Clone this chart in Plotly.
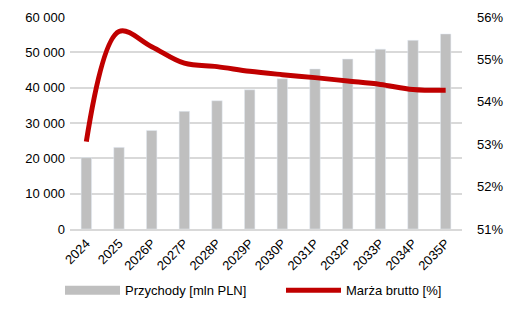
import plotly.graph_objects as go

# Revenue and gross margin, actuals and forecast (P)
years = ["2024", "2025", "2026P", "2027P", "2028P", "2029P", "2030P",
         "2031P", "2032P", "2033P", "2034P", "2035P"]
revenue = [20200, 23100, 27900, 33300, 36300, 39400, 42500,
           45300, 48100, 50900, 53400, 55200]
gross_margin = [53.06, 55.66, 55.30, 54.91, 54.83, 54.72, 54.64,
                54.57, 54.49, 54.41, 54.29, 54.27]

font_family = "Liberation Sans, Arial, sans-serif"
bar_color = "#BFBFBF"
line_color = "#C00000"

fig = go.Figure()
fig.add_trace(go.Bar(
    x=years, y=revenue, name="Przychody [mln PLN]",
    marker_color=bar_color, yaxis="y", showlegend=False,
))
# legend key for the bars drawn as a wide flat swatch
fig.add_trace(go.Scatter(
    x=[None], y=[None], name="Przychody [mln PLN]", mode="lines",
    line=dict(color=bar_color, width=9), yaxis="y", legend="legend",
))
fig.add_trace(go.Scatter(
    x=years, y=gross_margin, name="Marża brutto [%]",
    mode="lines", line=dict(color=line_color, width=5, shape="spline", smoothing=1.0),
    yaxis="y2", legend="legend2",
))

legend_common = dict(orientation="h", xref="container", xanchor="left",
                     y=0.115, yref="container", yanchor="middle",
                     font=dict(size=13, color="#000000"), itemwidth=55,
                     bgcolor="rgba(0,0,0,0)")

fig.update_layout(
    width=507, height=328,
    margin=dict(l=70, r=45, t=17, b=99, autoexpand=False),
    paper_bgcolor="white", plot_bgcolor="white",
    separators=", ",
    font=dict(family=font_family, size=13, color="#000000"),
    bargap=0.68,
    showlegend=True,
    legend=dict(x=60 / 507, **legend_common),
    legend2=dict(x=281 / 507, **legend_common),
    xaxis=dict(tickangle=-45, showgrid=False, showline=True, linecolor="#D9D9D9",
               linewidth=1.5, ticks="", automargin=False,
               tickfont=dict(size=13, color="#000000")),
    yaxis=dict(range=[0, 60000], dtick=10000, tickformat=",d",
               showgrid=True, gridcolor="#D9D9D9", gridwidth=1.5,
               zeroline=False, ticks="", automargin=False, ticklabelstandoff=4,
               tickfont=dict(size=13, color="#000000")),
    yaxis2=dict(range=[51, 56], dtick=1, overlaying="y", side="right",
                ticksuffix="%", showgrid=False, zeroline=False, automargin=False,
                ticklabelstandoff=14,
                tickfont=dict(size=13, color="#000000")),
)

fig.write_html("out.html")
